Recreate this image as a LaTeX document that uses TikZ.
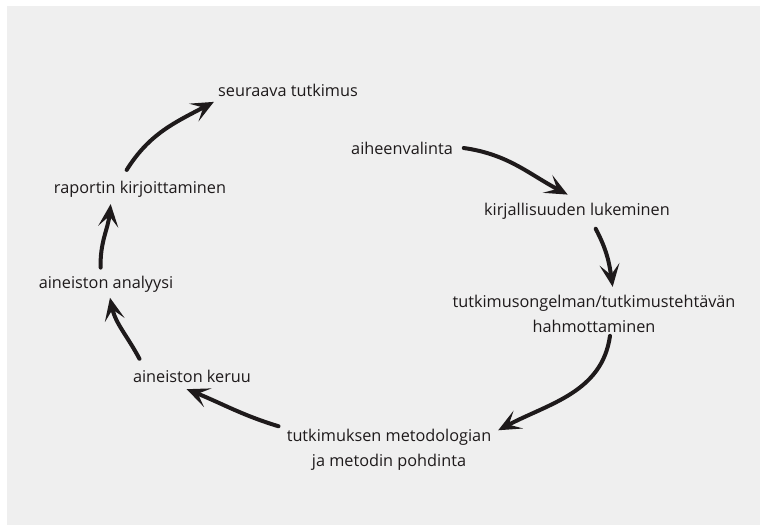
\documentclass[tikz,border=0pt]{standalone}
\usepackage{fontspec}
\setmainfont{Open Sans}
\usetikzlibrary{arrows.meta}

\definecolor{paper}{HTML}{EFEFEF}
\definecolor{ink}{HTML}{1E1A1B}

\tikzset{
  phase/.style={inner sep=2pt, text=ink, align=center,
    font=\fontsize{12.2}{19}\selectfont},
  cyc/.style={line width=3pt, draw=ink, line cap=round,
    -{Stealth[length=17pt, width=15pt, inset=8pt]}},
}

\begin{document}
\begin{tikzpicture}[x=0.75pt, y=-0.75pt]
  \useasboundingbox (0,0) rectangle (760,525);
  \fill[paper] (7,6) rectangle (760,525); % scanned page

  % the phases, clockwise from the top
  \node[phase] (seur) at (288,90)  {seuraava tutkimus};
  \node[phase] (aihe) at (402,148) {aiheenvalinta};
  \node[phase] (kirj) at (577,211) {kirjallisuuden lukeminen};
  \node[phase] (hahm) at (594,314) {tutkimusongelman/tutkimustehtävän\\hahmottaminen};
  \node[phase] (meto) at (389,450) {tutkimuksen metodologian\\ja metodin pohdinta};
  \node[phase] (keru) at (192,376) {aineiston keruu};
  \node[phase] (anal) at (106,284) {aineiston analyysi};
  \node[phase] (rapo) at (140,189) {raportin kirjoittaminen};

  % arrows round the cycle
  \draw[cyc] ([xshift=6pt]aihe.east) to[out=-8, in=152] ([xshift=-7pt, yshift=4pt]kirj.north);
  \draw[cyc] ([xshift=14pt, yshift=-5pt]kirj.south) to[out=-62, in=98] ([xshift=14pt, yshift=4pt]hahm.north);
  \draw[cyc] ([xshift=12pt]hahm.south) to[out=-98, in=28] ([xshift=3pt, yshift=-3pt]meto.north east);
  \draw[cyc] ([xshift=-4pt]meto.north west) to[out=163, in=-22] ([xshift=-4pt, yshift=-3pt]keru.south);
  \draw[cyc] ([xshift=7pt, yshift=6pt]keru.north west) to[out=118, in=-78] ([xshift=3pt, yshift=-2pt]anal.south);
  \draw[cyc] ([xshift=-4pt, yshift=4pt]anal.north) to[out=92, in=-96] ([xshift=-22pt, yshift=-3pt]rapo.south);
  \draw[cyc] ([xshift=-10pt, yshift=6pt]rapo.north) to[out=58, in=-152] ([xshift=-1pt, yshift=-2pt]seur.south west);
\end{tikzpicture}
\end{document}
